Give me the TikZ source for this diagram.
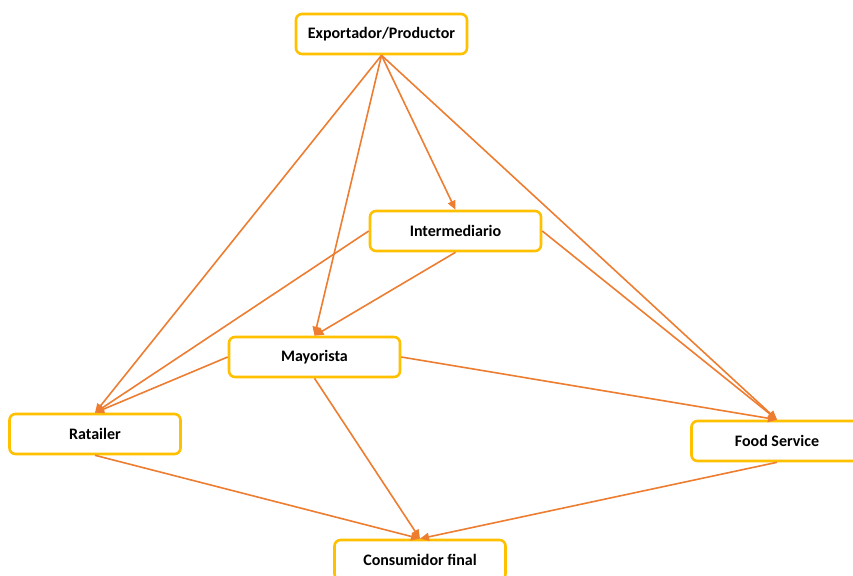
\documentclass[tikz,border=0pt]{standalone}
\usepackage{fontspec}
\setmainfont{Carlito}
\usetikzlibrary{arrows.meta}
\definecolor{boxyellow}{HTML}{FFC000}
\definecolor{linkorange}{HTML}{ED7D31}
\begin{document}
\begin{tikzpicture}[x=1pt,y=-1pt,
  box/.style={draw=boxyellow,line width=2.6pt,rounded corners=6pt,fill=white,
    minimum width=171pt,minimum height=40pt,inner sep=0pt,
    font=\bfseries\fontsize{16}{18}\selectfont},
  link/.style={draw=linkorange,line width=1.6pt,-{Triangle[length=9pt,width=8pt]}}]
\useasboundingbox (0,0) rectangle (853,575);
\node[box] (exp) at (381.5,34) {Exportador/Productor};
\node[box] (int) at (455.5,231) {Intermediario};
\node[box] (may) at (314.5,357) {Mayorista};
\node[box] (ret) at (95,434) {Ratailer};
\node[box] (fs) at (777,441) {Food Service};
\node[box] (con) at (420,560) {Consumidor final};
\draw[link] (exp.south) -- (ret.north);
\draw[link] (exp.south) -- (may.north);
\draw[link] (exp.south) -- (int.north);
\draw[link] (exp.south) -- (fs.north);
\draw[link] (int.west) -- (ret.north);
\draw[link] (int.south) -- (may.north);
\draw[link] (int.east) -- (fs.north);
\draw[link] (may.west) -- (ret.north);
\draw[link] (may.east) -- (fs.north);
\draw[link] (may.south) -- (con.north);
\draw[link] (ret.south) -- (con.north);
\draw[link] (fs.south) -- (con.north);
\end{tikzpicture}
\end{document}
